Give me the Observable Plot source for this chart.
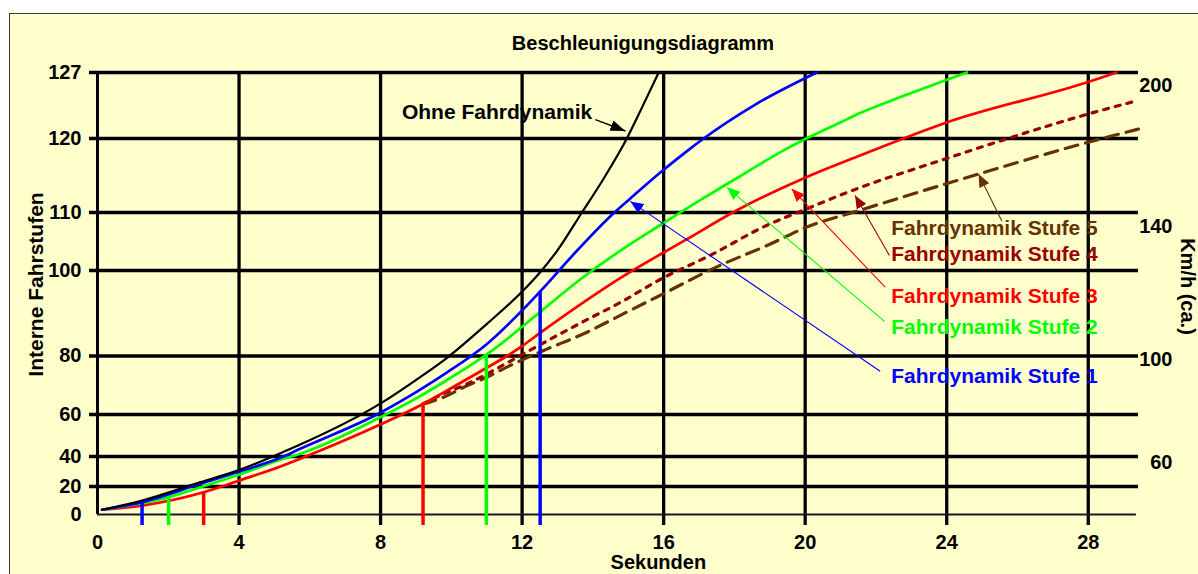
<!DOCTYPE html>
<html><head><meta charset="utf-8">
<script src="https://cdn.jsdelivr.net/npm/d3@7"></script>
<script src="https://cdn.jsdelivr.net/npm/@observablehq/plot@0.6"></script>
<style>
html,body{margin:0;padding:0;background:#fff;overflow:hidden;}
#page{position:relative;width:1198px;height:574px;overflow:hidden;font-family:"Liberation Sans",Arial,sans-serif;}
#frame{position:absolute;left:9px;top:13px;width:1200px;height:580px;background:#FFFFCC;border-top:1.5px solid #3a3a3a;border-left:1.5px solid #3a3a3a;}
#title{position:absolute;top:31px;left:643px;transform:translateX(-50%);font-size:20px;font-weight:bold;white-space:nowrap;line-height:24px;color:#000;}
#chart{position:absolute;left:0;top:0;}
</style></head>
<body><div id="page"><div id="frame"></div><div id="title">Beschleunigungsdiagramm</div><div id="chart"></div></div>
<script>
// ---------- data ----------
const xTicks = [0, 4, 8, 12, 16, 20, 24, 28];
const yTicks = [0, 20, 40, 60, 80, 100, 110, 120, 127];
const kmhLabels = [200, 140, 100, 60];
const kmhAtStufe = [125.6, 107.6, 78.8, 36];

const ohneT = [0.13,1.26,2.91,4.01,5.17,5.73,7.99,9.12,9.88,10.99,12.03,12.51,12.99,13.69,14.32,14.96,15.39,15.86];
const ohneV = [3.4,10.0,22.9,31.1,41.6,45.7,63.7,72.8,79.4,87.4,95.3,99.6,103.4,110.0,114.7,120.0,123.3,127.0];

const stufe1T = [0.13,1.26,2.91,4.01,5.17,5.73,7.99,9.12,9.88,10.99,12.03,12.51,13.55,14.54,15.06,15.88,16.66,17.13,18.59,20.33];
const stufe1V = [3.4,8.8,21.8,30.0,39.1,43.7,60.6,68.5,74.4,82.7,90.9,95.1,103.4,109.6,111.9,115.3,118.3,120.0,123.6,127.0];

const stufe2T = [0.13,2.01,2.91,4.01,5.17,5.73,7.99,9.12,9.88,10.99,12.03,12.51,13.64,14.77,15.90,17.01,18.16,19.39,20.03,20.99,21.55,22.77,24.57];
const stufe2V = [3.4,12.4,19.5,28.0,37.8,41.3,58.7,66.3,71.8,80.3,87.0,90.3,97.9,103.4,107.8,111.6,114.9,118.4,120.0,121.7,122.7,124.5,127.0];

const stufe3T = [0.13,1.26,3.00,4.01,5.17,5.73,7.99,9.20,9.88,10.99,11.57,12.03,12.51,13.64,14.77,16.66,18.07,19.95,21.55,24.00,28.00,28.80];
const stufe3V = [3.4,6.4,15.9,24.0,33.3,38.5,55.2,63.6,68.2,75.9,80.0,82.5,85.4,92.0,98.2,105.4,110.3,114.6,117.7,121.7,126.0,127.0];

const stufe4T = [9.20,9.78,10.35,11.01,11.95,12.99,13.74,14.77,15.90,17.31,18.92,20.05,21.18,24.00,28.00,29.37];
const stufe4V = [63.6,67.1,69.9,73.9,80.1,84.8,88.1,92.5,97.9,102.6,107.8,110.5,112.7,117.3,122.6,124.0];

const stufe5T = [9.20,9.78,10.35,11.01,11.67,12.61,13.74,14.87,15.81,17.60,18.92,20.05,21.55,24.90,28.00,29.42];
const stufe5V = [63.6,65.9,69.3,72.8,76.8,81.3,85.2,89.9,93.8,100.9,104.3,107.5,110.3,115.2,119.5,121.0];

// marker lines down to the time axis
const dropSeries = ["Stufe 1","Stufe 2","Stufe 3","Stufe 3","Stufe 2","Stufe 1"];
const dropT = [1.26, 2.01, 3.00, 9.20, 10.99, 12.51];
const dropV = [8.8, 12.4, 15.9, 63.6, 80.3, 95.1];

// annotation arrows
const arrowSeries = ["Ohne","Stufe 1","Stufe 2","Stufe 3","Stufe 4","Stufe 5"];
const arrowFromT = [14.07, 22.12, 22.24, 22.26, 22.38, 25.56];
const arrowFromV = [122.0, 74.8, 88.1, 96.1, 102.6, 108.5];
const arrowToT = [14.92, 15.06, 17.79, 19.62, 21.41, 24.90];
const arrowToV = [120.8, 111.5, 113.4, 113.2, 112.3, 115.2];

// labels
const labelSeries = ["Stufe 5","Stufe 4","Stufe 3","Stufe 2","Stufe 1"];
const labelText = ["Fahrdynamik Stufe 5","Fahrdynamik Stufe 4","Fahrdynamik Stufe 3","Fahrdynamik Stufe 2","Fahrdynamik Stufe 1"];
const labelT = [22.43, 22.43, 22.43, 22.43, 22.43];
const labelV = [107.2, 102.8, 94.0, 86.7, 73.1];
const ohneLabel = "Ohne Fahrdynamik";
const ohneLabelT = 13.98, ohneLabelV = 122.8;

// ---------- styles / scale ----------
const colors = {"Ohne":"#000000","Stufe 1":"#0000FF","Stufe 2":"#00FF00","Stufe 3":"#FF0000","Stufe 4":"#990000","Stufe 5":"#663300"};
const zip = (T, V) => T.map((t, i) => ({t, v: V[i]}));
const xMax = 29.42;
// the original axis is not uniform: piecewise-linear position of each Fahrstufe label
const yUnits = [0, 28, 58, 100, 158.5, 244, 302, 376, 442];
const yPos = d3.scaleLinear().domain(yTicks).range(yUnits);

function head(len, wid) {
  return (color, context) => {
    const doc = (context && context.document) || document;
    const ns = "http://www.w3.org/2000/svg";
    const m = doc.createElementNS(ns, "marker");
    m.setAttribute("viewBox", `${-len} ${-wid/2} ${len} ${wid}`);
    m.setAttribute("markerWidth", len);
    m.setAttribute("markerHeight", wid);
    m.setAttribute("markerUnits", "userSpaceOnUse");
    m.setAttribute("orient", "auto");
    m.setAttribute("refX", 0);
    m.setAttribute("refY", 0);
    const p = doc.createElementNS(ns, "path");
    p.setAttribute("d", `M${-len},${-wid/2}L0,0L${-len},${wid/2}Z`);
    p.setAttribute("fill", color);
    p.setAttribute("stroke", "none");
    m.appendChild(p);
    return m;
  };
}

const drops = dropT.map((t, i) => ({t, v: dropV[i], s: dropSeries[i]}));
const arrows = arrowSeries.map((s, i) => ({s, t1: arrowFromT[i], v1: arrowFromV[i], t2: arrowToT[i], v2: arrowToV[i]}));
const labels = labelSeries.map((s, i) => ({s, text: labelText[i], t: labelT[i], v: labelV[i]}));

const font = {fontSize: 20, fontWeight: "bold"};
const curve = "monotone-x";

const chart = Plot.plot({
  width: 1198,
  height: 574,
  marginLeft: 97,
  marginRight: 60,
  marginTop: 72,
  marginBottom: 60,
  style: {background: "transparent", fontFamily: "'Liberation Sans', Arial, sans-serif", overflow: "visible"},
  x: {domain: [0, xMax], axis: null},
  y: {transform: yPos, domain: [0, 442], axis: null},
  marks: [
    // grid
    Plot.ruleX(xTicks.filter(d => d > 0), {y1: 127, y2: 0, stroke: "#000", strokeWidth: 3.3, insetBottom: -11}),
    Plot.ruleY(yTicks.filter(d => d > 0), {x1: 0, x2: xMax, stroke: "#000", strokeWidth: 3.3, insetLeft: -8}),
    Plot.ruleY([0], {x1: 0, x2: xMax - 0.06, stroke: "#1a1a1a", strokeWidth: 2}),
    Plot.ruleX([0], {y1: 127, y2: 0, stroke: "#000", strokeWidth: 3}),
    // curves
    Plot.line(zip(stufe5T, stufe5V), {x: "t", y: "v", stroke: colors["Stufe 5"], strokeWidth: 3.2, strokeDasharray: "13,8", curve}),
    Plot.line(zip(stufe4T, stufe4V), {x: "t", y: "v", stroke: colors["Stufe 4"], strokeWidth: 3.2, strokeDasharray: "5,7", curve}),
    Plot.line(zip(stufe3T, stufe3V), {x: "t", y: "v", stroke: colors["Stufe 3"], strokeWidth: 2.7, curve}),
    Plot.line(zip(stufe2T, stufe2V), {x: "t", y: "v", stroke: colors["Stufe 2"], strokeWidth: 2.7, curve}),
    Plot.line(zip(stufe1T, stufe1V), {x: "t", y: "v", stroke: colors["Stufe 1"], strokeWidth: 2.7, curve}),
    Plot.line(zip(ohneT, ohneV), {x: "t", y: "v", stroke: colors["Ohne"], strokeWidth: 2.2, curve}),
    // drop lines
    Plot.ruleX(drops, {x: "t", y1: "v", y2: 0, stroke: d => colors[d.s], strokeWidth: 3.5, insetBottom: -11}),
    // annotation arrows
    Plot.link(arrows.filter(d => d.s === "Ohne"), {x1: "t1", y1: "v1", x2: "t2", y2: "v2", stroke: "#000", strokeWidth: 1.5, markerEnd: head(15, 11)}),
    ...arrows.filter(d => d.s !== "Ohne").map(a =>
      Plot.link([a], {x1: "t1", y1: "v1", x2: "t2", y2: "v2", stroke: colors[a.s], strokeWidth: 1.1, markerEnd: head(13, 11)})),
    // labels
    Plot.text(labels, {x: "t", y: "v", text: "text", fill: d => colors[d.s], textAnchor: "start", fontSize: 21, fontWeight: "bold"}),
    Plot.text([ohneLabel], {x: ohneLabelT, y: ohneLabelV, text: d => d, fill: "#000", textAnchor: "end", fontSize: 21, fontWeight: "bold"}),
    // axes
    Plot.text(yTicks, {y: d => d, frameAnchor: "left", dx: -16, textAnchor: "end", text: d => String(d), ...font}),
    Plot.text(kmhAtStufe, {y: d => d, frameAnchor: "right", dx: 34, textAnchor: "end", text: (d, i) => String(kmhLabels[i]), ...font}),
    Plot.axisX({ticks: xTicks, tickSize: 0, tickPadding: 20, label: null, ...font}),
    Plot.text(["Interne Fahrstufen"], {frameAnchor: "left", text: d => d, rotate: -90, dx: -61, dy: -9, textAnchor: "middle", lineAnchor: "middle", fontSize: 21, fontWeight: "bold"}),
    Plot.text(["Km/h (ca.)"], {frameAnchor: "right", text: d => d, rotate: 90, dx: 49, dy: -7, textAnchor: "middle", lineAnchor: "middle", ...font}),
    Plot.text(["Sekunden"], {x: 15.85, frameAnchor: "bottom", text: d => d, dy: 48, lineAnchor: "middle", ...font})
  ]
});
document.getElementById("chart").appendChild(chart);
</script></body></html>
